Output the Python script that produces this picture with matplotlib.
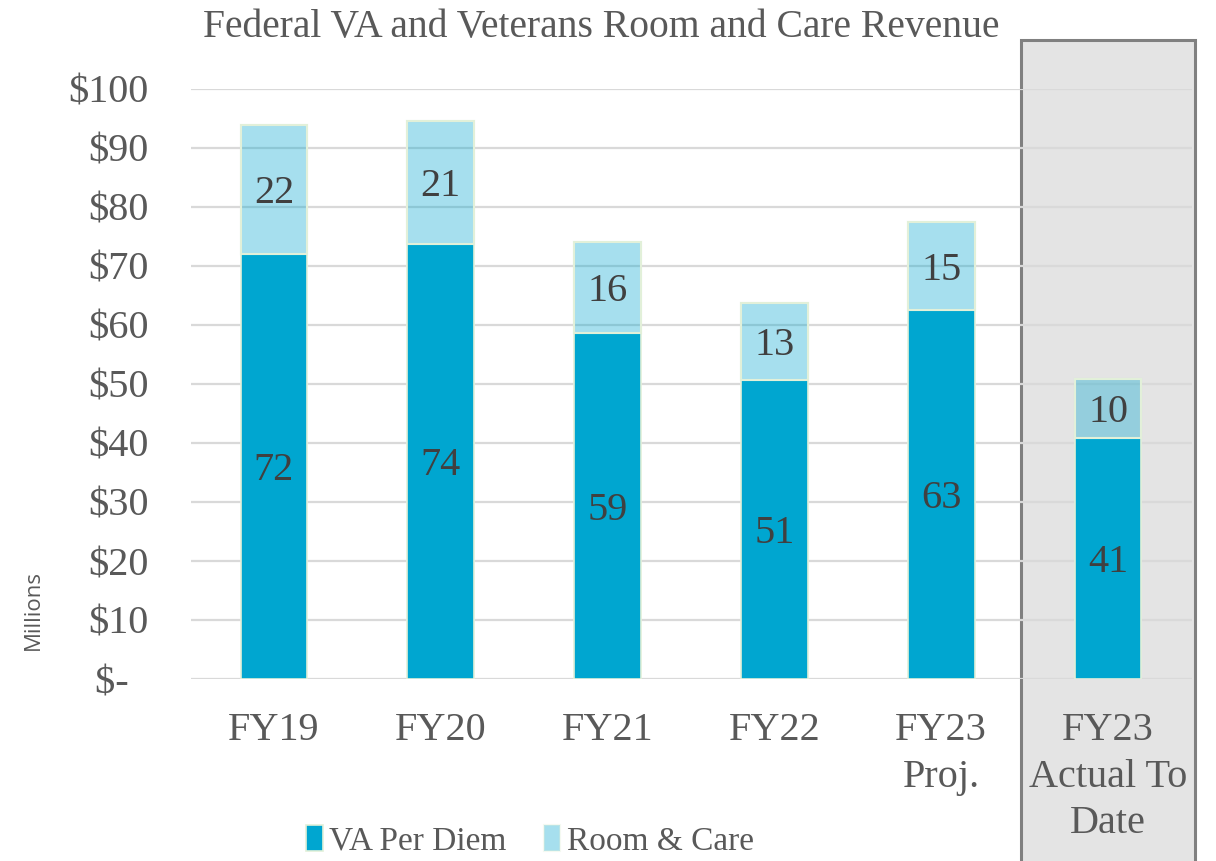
import matplotlib.pyplot as plt
from matplotlib.patches import Rectangle
import numpy as np

# valores (milhoes)
categorias = ['FY19', 'FY20', 'FY21', 'FY22', 'FY23\nProj.', 'FY23\nActual To\nDate']
va_per_diem = [72.0, 73.7, 58.6, 50.7, 62.6, 40.9]
room_care = [21.9, 20.8, 15.5, 13.0, 14.8, 9.9]
y_ticks = [0, 10, 20, 30, 40, 50, 60, 70, 80, 90, 100]
y_labels = ['$-  ', '$10', '$20', '$30', '$40', '$50', '$60', '$70', '$80', '$90', '$100']

azul = '#00A6D0'
borda = '#E2F0D9'
cinza_txt = '#595959'
serif = 'Liberation Serif'

fig = plt.figure(figsize=(12.16, 8.61), dpi=100)

# caixa cinza atras da ultima coluna
caixa = Rectangle((1021 / 1216, -0.05), (1195 - 1021) / 1216, 1.05 - 40 / 861,
                  transform=fig.transFigure, facecolor='#E4E4E4',
                  edgecolor='#808080', linewidth=2.2, zorder=0)
fig.patches.append(caixa)

ax = fig.add_axes([190.5 / 1216, 1 - 679 / 861, 1001 / 1216, 590 / 861])
ax.set_zorder(2)
ax.patch.set_visible(False)

x = np.arange(len(categorias))
b1 = ax.bar(x, va_per_diem, width=0.4, color=azul, edgecolor=borda,
            linewidth=1.2, label='VA Per Diem', zorder=3)
b2 = ax.bar(x, room_care, width=0.4, bottom=va_per_diem, color=azul, alpha=0.35,
            edgecolor=borda, linewidth=1.5, label='Room & Care', zorder=3)
# borda opaca da barra clara
ax.bar(x, room_care, width=0.4, bottom=va_per_diem, fill=False,
       edgecolor=borda, linewidth=1.5, zorder=4)

for i in range(len(x)):
    ax.annotate(f'{round(va_per_diem[i]):.0f}', (x[i], va_per_diem[i] / 2),
                xytext=(0, -3), textcoords='offset points', ha='center', va='center',
                fontsize=29, family=serif, color='#404040', zorder=5)
    ax.annotate(f'{round(room_care[i]):.0f}', (x[i], va_per_diem[i] + room_care[i] / 2),
                xytext=(0, -3), textcoords='offset points', ha='center', va='center',
                fontsize=29, family=serif, color='#404040', zorder=5)

ax.set_xlim(-0.5, len(x) - 0.5)
ax.set_ylim(0, 100)
ax.set_yticks(y_ticks)
ax.set_yticklabels(y_labels)
ax.set_xticks(x)
ax.set_xticklabels(categorias, linespacing=1.33, va='top')
ax.tick_params(axis='y', length=0, pad=30, labelsize=29, labelcolor=cinza_txt)
ax.tick_params(axis='x', length=0, pad=24, labelsize=29, labelcolor=cinza_txt)
for lbl in ax.get_xticklabels() + ax.get_yticklabels():
    lbl.set_family(serif)

ax.grid(axis='y', color='#D9D9D9', linewidth=1.6, zorder=1)
ax.set_axisbelow(True)
for s in ax.spines.values():
    s.set_visible(False)

fig.text(601 / 1216, 1 - 27 / 861, 'Federal VA and Veterans Room and Care Revenue',
         ha='center', va='center', fontsize=28.5, family=serif, color=cinza_txt)
fig.text(33 / 1216, 1 - 610 / 861, 'Millions', rotation=90, ha='center', va='center',
         fontsize=16, family='Open Sans', color=cinza_txt)

fig.legend(handles=[b1, b2], loc='center', bbox_to_anchor=(530 / 1216, 1 - 841 / 861),
           ncol=2, frameon=False, prop={'family': serif, 'size': 24},
           labelcolor=cinza_txt, handlelength=0.5, handleheight=0.8,
           handletextpad=0.2, columnspacing=1.1, borderpad=0)

plt.savefig('out.png', dpi=100)
